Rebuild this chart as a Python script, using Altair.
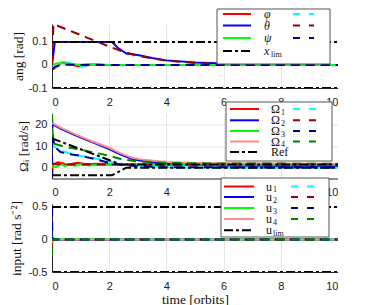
import altair as alt
import pandas as pd

# ---------------- data: panel 1 (attitude angles, rad) ----------------
t_phi = [0, 0.1, 0.2, 0.35, 0.5, 0.7, 0.9, 1.1, 1.4, 1.7, 2.0, 10]
phi = [-0.02, -0.014, -0.002, 0.011, 0.01, 0.001, -0.006, -0.006, 0.003, 0.001, 0.0, 0.0]
t_theta = [0, 0.1, 2.1, 2.3, 2.6, 3.0, 3.5, 4.0, 5.0, 6.0, 7.0, 8.0, 10]
theta = [0, 0.1, 0.1, 0.075, 0.05, 0.043, 0.03, 0.02, 0.011, 0.006, 0.003, 0.001, 0]
t_psi = [0, 0.15, 0.3, 0.6, 1.0, 1.5, 2.0, 10]
psi = [0.0, 0.006, 0.009, 0.004, 0.001, 0.004, 0.0, 0.0]
t_phi_ref = [0, 0.1, 0.3, 0.5, 0.7, 0.9, 1.1, 1.4, 1.7, 2.0, 10]
phi_ref = [-0.015, -0.01, 0.006, 0.012, 0.004, -0.006, -0.005, 0.005, 0.002, 0.0, 0.0]
t_theta_ref = [0, 0.05, 0.3, 0.8, 1.2, 1.6, 2.0, 2.5, 3.0, 3.5, 4.0, 5.0, 6.0, 7.0, 8.0, 10]
theta_ref = [0, 0.178, 0.165, 0.14, 0.12, 0.1, 0.08, 0.057, 0.04, 0.029, 0.019, 0.009, 0.004, 0.0015, 0.0005, 0]
t_psi_ref = [0, 0.1, 0.3, 0.6, 1.0, 1.5, 2.0, 10]
psi_ref = [-0.02, -0.008, 0.0, 0.002, 0.0, 0.001, 0.0, 0.0]
t_lim = [0, 10]
x_lim_hi = [0.1, 0.1]
x_lim_lo = [-0.1, -0.1]

# ---------------- data: panel 2 (wheel speeds, rad/s) ----------------
t_om1 = [0, 0.03, 0.2, 0.35, 0.5, 0.7, 0.9, 1.2, 1.6, 2.0, 3.0, 10]
om1 = [-5, 1.5, 2.5, 2.2, 1.4, 1.8, 2.3, 1.6, 1.8, 1.6, 1.5, 1.5]
t_om2 = [0, 0.03, 0.3, 0.8, 1.4, 2.0, 2.4, 2.8, 3.2, 4.0, 5.0, 6.0, 8.0, 10]
om2 = [18, 20, 18, 15, 11.8, 8.6, 6.0, 4.0, 3.0, 1.8, 1.2, 0.9, 0.8, 0.8]
t_om3 = [0, 0.05, 0.15, 0.3, 0.45, 0.6, 0.8, 1.0, 1.3, 1.6, 2.0, 3.0, 10]
om3 = [3.5, 0.4, 0.3, 1.6, 0.7, 1.4, 0.9, 1.6, 1.0, 1.3, 1.2, 1.3, 1.3]
t_om4 = [0, 0.03, 0.3, 0.8, 1.4, 2.0, 2.4, 2.8, 3.2, 4.0, 5.0, 6.0, 8.0, 10]
om4 = [23, 20.5, 18.5, 15.5, 12.2, 9.2, 6.6, 4.6, 3.6, 2.6, 2.2, 2.0, 1.9, 1.8]
t_om1_ref = [0, 0.05, 0.3, 0.7, 1.2, 1.8, 2.3, 3.0, 4.0, 5.0, 10]
om1_ref = [12, 10, 8, 6.3, 5.0, 3.5, 2.0, 1.0, 0.3, 0.0, 0.0]
t_om2_ref = [0, 0.05, 0.5, 1.0, 10]
om2_ref = [2.0, 1.6, 1.5, 1.5, 1.5]
t_om3_ref = [0, 0.005, 0.03, 0.1, 0.3, 0.6, 1.0, 1.5, 2.0, 2.5, 3.0, 4.0, 10]
om3_ref = [-5, 19, 14, 9.5, 7.2, 6.3, 5.5, 4.0, 2.2, 1.2, 0.6, 0.2, 0.0]
t_om4_ref = [0, 0.02, 0.1, 0.4, 1.0, 1.5, 2.0, 2.4, 3.0, 4.0, 5.0, 10]
om4_ref = [25, 14, 11, 9.8, 8.3, 6.9, 5.5, 4.0, 2.9, 2.2, 2.0, 1.8]
t_ref_hi = [0, 2.4, 10]
ref_hi = [13.5, 1.5, 1.5]
t_ref_lo = [0, 2.1, 2.6, 10]
ref_lo = [-3.5, -3.5, 0.0, 0.0]

# ---------------- data: panel 3 (inputs, rad s^-2) ----------------
t_u1 = [0, 0.02, 10]
u1 = [-0.1, 0.0, 0.0]
t_u2 = [0, 0.02, 10]
u2 = [0.1, 0.0, 0.0]
t_u3 = [0, 0.02, 2.0, 2.2, 10]
u3 = [0.05, 0.008, 0.008, 0.0, 0.0]
t_u4 = [0, 0.02, 10]
u4 = [-0.05, 0.0, 0.0]
t_u1_ref = [0, 0.02, 10]
u1_ref = [0.0, 0.0, 0.0]
t_u2_ref = [0, 0.02, 10]
u2_ref = [0.03, 0.0, 0.0]
t_u3_ref = [0, 0.004, 0.012, 10]
u3_ref = [0.5, 0.5, 0.0, 0.0]
t_u4_ref = [0, 0.012, 10]
u4_ref = [-0.25, 0.0, 0.0]
u_lim_hi = [0.5, 0.5]
u_lim_lo = [-0.5, -0.5]

x_ticks = [0, 2, 4, 6, 8, 10]

# ---------------- styles ----------------
RED, BLUE, GREEN, PINK = "#ff0000", "#0000ff", "#00ff00", "#ff8c8c"
CYAN, DRED, NAVY, DGREEN = "#00ffff", "#990000", "#000099", "#008000"
BLACK = "#000000"
DASH = [9, 6]
DASHDOT = [9, 3, 3, 3]
SANS = "Liberation Sans"
SERIF = "Liberation Serif"
W = 286
dummy = pd.DataFrame({"k": [0]})


def line(t, v, color, xs, ys, dash=None, width=2):
    kw = dict(color=color, strokeWidth=width, clip=True)
    if dash:
        kw["strokeDash"] = dash
    return alt.Chart(pd.DataFrame({"t": t, "v": v})).mark_line(**kw).encode(
        x=xs, y=ys, order=alt.Order("t:Q"))


def seg(x1, x2, y, color, dash=None, width=2):
    kw = dict(color=color, strokeWidth=width)
    if dash:
        kw["strokeDash"] = dash
    return alt.Chart(dummy).mark_rule(**kw).encode(
        x=alt.value(x1), x2=alt.value(x2), y=alt.value(y))


def txt(x, y, s, size=11, italic=False):
    kw = dict(align="left", baseline="middle", font=SERIF, fontSize=size, text=s, color="#111")
    if italic:
        kw["fontStyle"] = "italic"
    return alt.Chart(dummy).mark_text(**kw).encode(x=alt.value(x), y=alt.value(y))


def label(x, y, main, sub=None, italic=False, subdx=8):
    out = [txt(x, y, main, 12, italic)]
    if sub:
        out.append(txt(x + subdx, y + 3.5, sub, 8))
    return out


def legend(box, rows, solid_x, lab_x, dash_x):
    x1, x2, y1, y2 = box
    layers = [alt.Chart(dummy).mark_rect(fill="white", stroke="#555", strokeWidth=1).encode(
        x=alt.value(x1), x2=alt.value(x2), y=alt.value(y1), y2=alt.value(y2))]
    for y, (scol, sdash, main, sub, ital, subdx, dcol) in rows:
        layers.append(seg(solid_x[0], solid_x[1], y, scol, sdash))
        layers += label(lab_x, y, main, sub, ital, subdx)
        if dcol:
            layers.append(seg(dash_x[0], dash_x[1], y, dcol, [7, 9]))
    return layers


def enc(ydom, yticks, ytitle, title_x, show_xtitle=False):
    xs = alt.X("t:Q", scale=alt.Scale(domain=[0, 10], nice=False),
               axis=alt.Axis(values=x_ticks, title="time [orbits]" if show_xtitle else None,
                             titleFont=SERIF, titleFontSize=13.5, titleFontWeight="normal",
                             titlePadding=1, titleColor="#111"))
    ys = alt.Y("v:Q", scale=alt.Scale(domain=ydom, nice=False, zero=False),
               axis=alt.Axis(values=yticks, title=ytitle, labelExpr="'' + datum.value",
                             titleFont=SERIF, titleFontSize=13.5, titleFontWeight="normal",
                             titleX=title_x, titleBaseline="middle", titleColor="#111"))
    return xs, ys


# ---------------- panel 1 ----------------
xs, ys = enc([-0.1, 0.178], [-0.1, 0, 0.1], "ang [rad]", -34)
p1_layers = [
    line(t_phi, phi, RED, xs, ys),
    line(t_theta, theta, BLUE, xs, ys),
    line(t_psi, psi, GREEN, xs, ys),
    line(t_phi_ref, phi_ref, CYAN, xs, ys, DASH),
    line(t_theta_ref, theta_ref, DRED, xs, ys, DASH),
    line(t_psi_ref, psi_ref, NAVY, xs, ys, DASH),
    line(t_lim, x_lim_hi, BLACK, xs, ys, DASHDOT),
    line(t_lim, x_lim_lo, BLACK, xs, ys, DASHDOT),
]
p1_layers += legend(
    (165, 278, -15, 40),
    [(-10, (RED, None, "φ", None, True, 0, CYAN)),
     (1.5, (BLUE, None, "θ", None, True, 0, DRED)),
     (14, (GREEN, None, "ψ", None, True, 0, NAVY)),
     (27, (BLACK, DASHDOT, "x", "lim", True, 7, None))],
    (171, 199), 212, (241, 262))
p1 = alt.layer(*p1_layers).properties(width=W, height=64)

# ---------------- panel 2 ----------------
xs, ys = enc([-5, 25], [0, 10, 20], "Ωᵢ [rad/s]", -29)
p2_layers = [
    line(t_om1, om1, RED, xs, ys),
    line(t_om2, om2, BLUE, xs, ys),
    line(t_om3, om3, GREEN, xs, ys),
    line(t_om4, om4, PINK, xs, ys),
    line(t_om1_ref, om1_ref, CYAN, xs, ys, DASH),
    line(t_om2_ref, om2_ref, DRED, xs, ys, DASH),
    line(t_om3_ref, om3_ref, NAVY, xs, ys, DASH),
    line(t_om4_ref, om4_ref, DGREEN, xs, ys, DASH),
    line(t_ref_hi, ref_hi, BLACK, xs, ys, DASHDOT),
    line(t_ref_lo, ref_lo, BLACK, xs, ys, DASHDOT),
]
p2_layers += legend(
    (174, 280, -11.5, 47.5),
    [(-4.5, (RED, None, "Ω", "1", False, 10, CYAN)),
     (6.8, (BLUE, None, "Ω", "2", False, 10, DRED)),
     (17.5, (GREEN, None, "Ω", "3", False, 10, NAVY)),
     (28, (PINK, None, "Ω", "4", False, 10, DGREEN)),
     (38.5, (BLACK, DASHDOT, "Ref", None, False, 0, None))],
    (178, 207), 219, (241, 264))
p2 = alt.layer(*p2_layers).properties(width=W, height=65)

# ---------------- panel 3 ----------------
xs, ys = enc([-0.5, 0.546], [-0.5, 0, 0.5], "input [rad s⁻²]", -36, True)
p3_layers = [
    line(t_u1, u1, RED, xs, ys),
    line(t_u2, u2, BLUE, xs, ys),
    line(t_u3, u3, GREEN, xs, ys),
    line(t_u4, u4, PINK, xs, ys),
    line(t_u1_ref, u1_ref, CYAN, xs, ys, DASH),
    line(t_u2_ref, u2_ref, DRED, xs, ys, DASH),
    line(t_u3_ref, u3_ref, NAVY, xs, ys, DASH),
    line(t_u4_ref, u4_ref, DGREEN, xs, ys, DASH),
    line(t_lim, u_lim_hi, BLACK, xs, ys, DASHDOT),
    line(t_lim, u_lim_lo, BLACK, xs, ys, DASHDOT),
]
p3_layers += legend(
    (169, 277, -26, 33),
    [(-17.5, (RED, None, "u", "1", False, 7, CYAN)),
     (-7, (BLUE, None, "u", "2", False, 7, DRED)),
     (4, (GREEN, None, "u", "3", False, 7, NAVY)),
     (15, (PINK, None, "u", "4", False, 7, DGREEN)),
     (26.3, (BLACK, DASHDOT, "u", "lim", False, 7, None))],
    (172, 202), 214, (239, 262))
p3 = alt.layer(*p3_layers).properties(width=W, height=68)

chart = alt.vconcat(p1, p2, p3, spacing=25.5, bounds="flush").properties(
    padding={"left": 1, "top": 0, "right": 0, "bottom": 0}
).configure_view(stroke=None).configure_axis(
    grid=True, gridColor="#e6e6e6", gridWidth=1,
    domainColor="#222", domainWidth=1, ticks=False,
    labelFont=SANS, labelFontSize=11, labelColor="#222",
    labelPadding=5,
).configure_axisX(labelPadding=8)

chart.save("out.html", embed_options={"renderer": "svg", "actions": False})
